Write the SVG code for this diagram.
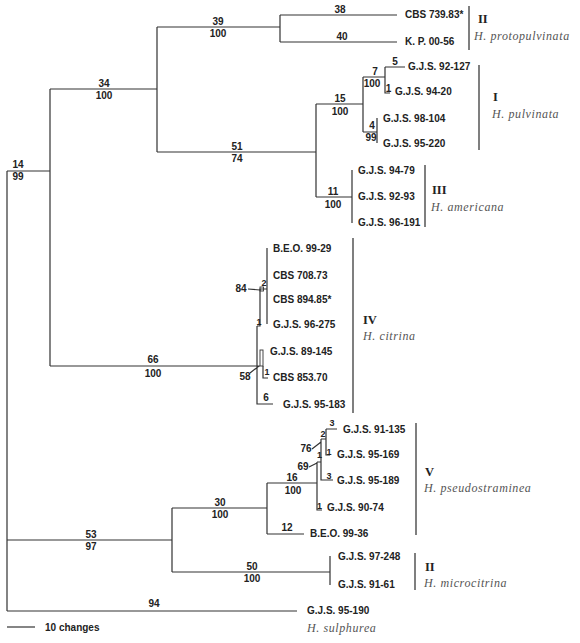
<svg xmlns="http://www.w3.org/2000/svg" width="580" height="643" viewBox="0 0 580 643">
<style>
.br{fill:none;stroke:#333;stroke-width:1.2}
.bar{fill:none;stroke:#555;stroke-width:1.5}
.leaf{font-family:"Liberation Sans",Arial,sans-serif;font-size:10px;font-weight:bold;fill:#222}
.bl{font-family:"Liberation Sans",Arial,sans-serif;font-size:10px;font-weight:bold;fill:#222;text-anchor:middle}
.sm{font-family:"Liberation Sans",Arial,sans-serif;font-size:9px;font-weight:bold;fill:#222;text-anchor:middle}
.rom{font-family:"Liberation Serif","Times New Roman",serif;font-size:12.5px;font-weight:bold;fill:#222}
.sp{font-family:"Liberation Serif","Times New Roman",serif;font-size:12px;font-style:italic;fill:#555;letter-spacing:0.6px}
</style>
<rect width="580" height="643" fill="#fff"/>
<g id="connectors">
<path class="br" d="M7 171V611M7 171H50M50 89V366M50 89H157M157 27V152M157 27H280M280 15V42M280 15H397M280 42H397M157 152H316M316 104V197M316 104H363M363 77V132M363 77H385M385 67V93H390M385 67H405M363 132H377M377 118V143M316 197H352M352 170V223"/>
<path class="br" d="M50 366H258M257 326V404H273M257 326H260V289H267M267 248V324M258 366H260M263 366V378H268M248 289L260 290M250 373L259 366"/>
<rect class="br" x="260" y="287" width="3.5" height="4" style="stroke-width:0.9"/>
<rect class="br" x="260" y="350" width="3" height="16" style="stroke-width:0.9"/>
<path class="br" d="M7 540H172M172 508V572M172 508H267M267 483V534M267 483H317M267 534H304M317 462V510H322M317 462H321M321 439V480H333M321 439H326M326 429V455H330M326 429H337M312 449L321 442M309 467L317 463M172 572H330M330 556V585M7 611H297"/>
</g>
<g id="branch-labels">
<text class="bl" x="18" y="168">14</text><text class="bl" x="18" y="180">99</text>
<text class="bl" x="104" y="87">34</text><text class="bl" x="104" y="99">100</text>
<text class="bl" x="218" y="25">39</text><text class="bl" x="218" y="37">100</text>
<text class="bl" x="340" y="13">38</text><text class="bl" x="342" y="40">40</text>
<text class="bl" x="237" y="150">51</text><text class="bl" x="237" y="162">74</text>
<text class="bl" x="340" y="102">15</text><text class="bl" x="340" y="115">100</text>
<text class="bl" x="375" y="75">7</text><text class="bl" x="372" y="87">100</text>
<text class="bl" x="395" y="65">5</text><text class="bl" x="388.5" y="92">1</text>
<text class="bl" x="372" y="129">4</text><text class="bl" x="371" y="141">99</text>
<text class="bl" x="333" y="195">11</text><text class="bl" x="333" y="208">100</text>
<text class="bl" x="153" y="363">66</text><text class="bl" x="153" y="377">100</text>
<text class="bl" x="241" y="292">84</text><text class="sm" x="264" y="286">2</text><text class="sm" x="259" y="325">1</text>
<text class="bl" x="245" y="380">58</text><text class="sm" x="267" y="375">1</text>
<text class="bl" x="266" y="401">6</text>
<text class="bl" x="220" y="506">30</text><text class="bl" x="220" y="518">100</text>
<text class="bl" x="292" y="481">16</text><text class="bl" x="293" y="494">100</text>
<text class="bl" x="287" y="531">12</text>
<text class="sm" x="332" y="426">3</text><text class="sm" x="323" y="437">2</text><text class="bl" x="306" y="452">76</text>
<text class="sm" x="329" y="455">1</text><text class="sm" x="319.5" y="458">1</text>
<text class="bl" x="303" y="470">69</text><text class="sm" x="329" y="479">3</text><text class="sm" x="319.5" y="509">1</text>
<text class="bl" x="252" y="570">50</text><text class="bl" x="252" y="582">100</text>
<text class="bl" x="91" y="538">53</text><text class="bl" x="91" y="550">97</text>
<text class="bl" x="154" y="607">94</text>
</g>
<g id="leaf-cbs73983"><text class="leaf" x="405" y="18">CBS 739.83*</text></g>
<g id="leaf-kp0056"><text class="leaf" x="405" y="45">K. P. 00-56</text></g>
<g id="leaf-gjs92127"><text class="leaf" x="408" y="70">G.J.S. 92-127</text></g>
<g id="leaf-gjs9420"><text class="leaf" x="395" y="95">G.J.S. 94-20</text></g>
<g id="leaf-gjs98104"><text class="leaf" x="383" y="122">G.J.S. 98-104</text></g>
<g id="leaf-gjs95220"><text class="leaf" x="383" y="147">G.J.S. 95-220</text></g>
<g id="leaf-gjs9479"><text class="leaf" x="358" y="174">G.J.S. 94-79</text></g>
<g id="leaf-gjs9293"><text class="leaf" x="358" y="200">G.J.S. 92-93</text></g>
<g id="leaf-gjs96191"><text class="leaf" x="358" y="226">G.J.S. 96-191</text></g>
<g id="leaf-beo9929"><text class="leaf" x="273" y="252">B.E.O. 99-29</text></g>
<g id="leaf-cbs70873"><text class="leaf" x="273" y="279">CBS 708.73</text></g>
<g id="leaf-cbs89485"><text class="leaf" x="273" y="303">CBS 894.85*</text></g>
<g id="leaf-gjs96275"><text class="leaf" x="273" y="328">G.J.S. 96-275</text></g>
<g id="leaf-gjs89145"><text class="leaf" x="270" y="355">G.J.S. 89-145</text></g>
<g id="leaf-cbs85370"><text class="leaf" x="273" y="381">CBS 853.70</text></g>
<g id="leaf-gjs95183"><text class="leaf" x="283" y="408">G.J.S. 95-183</text></g>
<g id="leaf-gjs91135"><text class="leaf" x="343" y="433">G.J.S. 91-135</text></g>
<g id="leaf-gjs95169"><text class="leaf" x="337" y="458">G.J.S. 95-169</text></g>
<g id="leaf-gjs95189"><text class="leaf" x="337" y="484">G.J.S. 95-189</text></g>
<g id="leaf-gjs9074"><text class="leaf" x="327" y="511">G.J.S. 90-74</text></g>
<g id="leaf-beo9936"><text class="leaf" x="310" y="537">B.E.O. 99-36</text></g>
<g id="leaf-gjs97248"><text class="leaf" x="338" y="560">G.J.S. 97-248</text></g>
<g id="leaf-gjs9161"><text class="leaf" x="338" y="588">G.J.S. 91-61</text></g>
<g id="leaf-gjs95190"><text class="leaf" x="307" y="614">G.J.S. 95-190</text></g>
<g id="clade-protopulvinata"><path class="bar" d="M469 6V50"/><text class="rom" x="478" y="23">II</text><text class="sp" x="474" y="40">H. protopulvinata</text></g>
<g id="clade-pulvinata"><path class="bar" d="M479 65V150"/><text class="rom" x="493" y="101">I</text><text class="sp" x="492" y="118">H. pulvinata</text></g>
<g id="clade-americana"><path class="bar" d="M425 165V227"/><text class="rom" x="432" y="194">III</text><text class="sp" x="431" y="211">H. americana</text></g>
<g id="clade-citrina"><path class="bar" d="M353 238V413"/><text class="rom" x="363" y="324">IV</text><text class="sp" x="363" y="340">H. citrina</text></g>
<g id="clade-pseudostraminea"><path class="bar" d="M416 423V535"/><text class="rom" x="425" y="476">V</text><text class="sp" x="424" y="492">H. pseudostraminea</text></g>
<g id="clade-microcitrina"><path class="bar" d="M415 553V590"/><text class="rom" x="425" y="571">II</text><text class="sp" x="424" y="587">H. microcitrina</text></g>
<g id="sulphurea"><text class="sp" x="307" y="632">H. sulphurea</text></g>
<g id="scale"><path class="br" d="M7 627H35"/><text class="leaf" x="45" y="631">10 changes</text></g>
</svg>
